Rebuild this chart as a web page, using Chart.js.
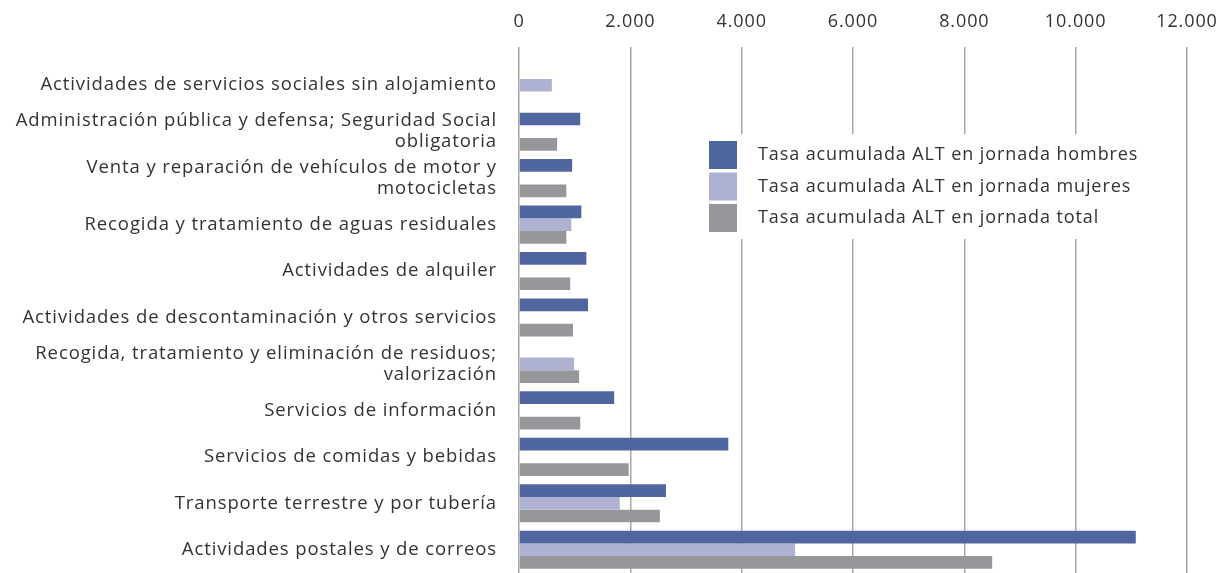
<!DOCTYPE html>
<html lang="es">
<head>
<meta charset="utf-8">
<title>Tasa acumulada ALT en jornada</title>
<script src="https://cdn.jsdelivr.net/npm/chart.js@4.4.1/dist/chart.umd.min.js"></script>
<style>
  html, body { margin: 0; padding: 0; background: #fff; }
  #wrap { width: 1224px; height: 573px; position: relative; }
</style>
</head>
<body>
<div id="wrap"><canvas id="altChart"></canvas></div>
<script>
const sectores = [
  "Actividades de servicios sociales sin alojamiento",
  ["Administración pública y defensa; Seguridad Social", "obligatoria"],
  ["Venta y reparación de vehículos de motor y", "motocicletas"],
  "Recogida y tratamiento de aguas residuales",
  "Actividades de alquiler",
  "Actividades de descontaminación y otros servicios",
  ["Recogida, tratamiento y eliminación de residuos;", "valorización"],
  "Servicios de información",
  "Servicios de comidas y bebidas",
  "Transporte terrestre y por tubería",
  "Actividades postales y de correos"
];

const hombres = [null, 1100, 955, 1120, 1210, 1240, null, 1710, 3760, 2640, 11080];
const mujeres = [590, null, null, 940, null, null, 990, null, null, 1810, 4960];
const total   = [null, 685, 850, 850, 920, 970, 1080, 1100, 1970, 2530, 8500];

const xTicks = [0, 2000, 4000, 6000, 8000, 10000, 12000];

const FONT = "'Open Sans', sans-serif";
const TEXT = "#333333";
const GRID = "#a8a8a8";

// wider letters, closer to the original typeface
const spacing = {
  id: "spacing",
  beforeDraw(chart) { chart.ctx.letterSpacing = "0.9px"; }
};

// legend drawn as a white box inside the plot, like the original
const boxLegend = {
  id: "boxLegend",
  afterDatasetsDraw(chart) {
    const ctx = chart.ctx;
    ctx.save();
    ctx.fillStyle = "#ffffff";
    ctx.fillRect(700, 134, 462, 105);
    ctx.font = "18px " + FONT;
    ctx.textBaseline = "middle";
    ctx.textAlign = "left";
    chart.data.datasets.forEach((ds, i) => {
      const y = 141 + i * 31.5;
      ctx.fillStyle = ds.backgroundColor;
      ctx.fillRect(709, y, 28, 28);
      ctx.fillStyle = TEXT;
      ctx.fillText(ds.label, 758, y + 14);
    });
    ctx.restore();
  }
};

new Chart(document.getElementById("altChart"), {
  type: "bar",
  data: {
    labels: sectores,
    datasets: [
      { label: "Tasa acumulada ALT en jornada hombres", data: hombres, backgroundColor: "#50669e" },
      { label: "Tasa acumulada ALT en jornada mujeres", data: mujeres, backgroundColor: "#aeb1d1" },
      { label: "Tasa acumulada ALT en jornada total", data: total, backgroundColor: "#96979b" }
    ]
  },
  options: {
    indexAxis: "y",
    responsive: true,
    maintainAspectRatio: false,
    animation: false,
    categoryPercentage: 0.82,
    barPercentage: 1.0,
    layout: { padding: { left: 0, right: 37, top: 0, bottom: 0 } },
    plugins: {
      legend: { display: false },
      tooltip: { enabled: false }
    },
    scales: {
      x: {
        position: "top",
        min: 0,
        max: 12000,
        afterBuildTicks: (scale) => { scale.ticks = xTicks.map(v => ({ value: v })); },
        afterFit: (scale) => {
          scale.height = 62;
          scale.paddingLeft = 0;
          scale.paddingRight = 0;
        },
        border: { display: false },
        grid: { color: GRID, lineWidth: 1.5, drawTicks: true, tickLength: 15, tickColor: GRID },
        ticks: {
          padding: 14,
          color: TEXT,
          font: { family: FONT, size: 18 },
          callback: (v) => v.toLocaleString("de-DE")
        }
      },
      y: {
        position: "left",
        afterFit: (scale) => {
          scale.width = 519;
          scale.paddingTop = 0;
          scale.paddingBottom = 0;
        },
        border: { display: false },
        grid: { display: false },
        ticks: {
          padding: 14,
          color: TEXT,
          font: { family: FONT, size: 18.5, lineHeight: 1.14 },
          autoSkip: false
        }
      }
    }
  },
  plugins: [spacing, boxLegend]
});
</script>
</body>
</html>
